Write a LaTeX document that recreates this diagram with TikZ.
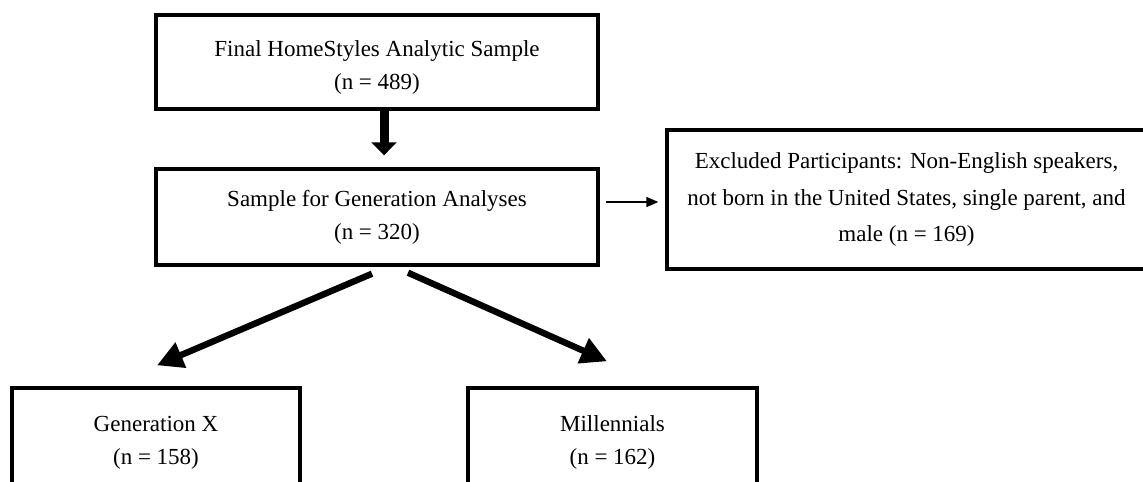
\documentclass[tikz,border=0pt]{standalone}
\usepackage{fontspec}
\setmainfont{Liberation Serif}
\usepackage{tikz}
\usetikzlibrary{arrows.meta, positioning}

\begin{document}
\begin{tikzpicture}[
        x=0.5pt, y=-0.5pt,
        box/.style={rectangle, draw=black, line width=1.7pt, align=center, inner sep=0pt, font=\fontsize{11.5}{16.5}\selectfont},
        downarrow/.style={-{Triangle[length=6.5pt, width=12.5pt]}, line width=4.5pt},
        diagarrow/.style={-{Triangle[length=13pt, width=13pt]}, line width=3.2pt},
        sidearrow/.style={-{Triangle[length=6pt, width=5pt]}, line width=0.8pt},
    ]
        \useasboundingbox (0,0) rectangle (1143,481);

        % Samples
        \node[box, minimum width=221pt, minimum height=47pt] (final) at (377,62) {\rule{0pt}{13pt}Final HomeStyles Analytic Sample\\(n = 489)};
        \node[box, minimum width=221pt, minimum height=48pt] (gensample) at (377,217) {Sample for Generation Analyses\\(n = 320)};

        % Excluded
        \node[box, minimum width=239.5pt, minimum height=69.5pt, font=\fontsize{11.5}{18.2}\selectfont] (excluded) at (906.5,199.5) {Excluded Participants: Non-English speakers,\\not born in the United States, single parent, and\\male (n = 169)};

        % Generations
        \node[box, minimum width=144pt, minimum height=54.5pt] (genx) at (156,442.5) {Generation X\\(n = 158)};
        \node[box, minimum width=144.5pt, minimum height=54.5pt] (millennials) at (612.5,442.5) {Millennials\\(n = 162)};

        % Arrows
        \draw[downarrow] ([xshift=3.5pt]final.south) -- ([xshift=3.5pt, yshift=6pt]gensample.north);
        \draw[sidearrow] ([xshift=3pt, yshift=7.5pt]gensample.east) -- ([xshift=-3.5pt, yshift=-1.25pt]excluded.west);
        \draw[diagarrow] ([xshift=-2.5pt, yshift=-3.5pt]gensample.south) -- ([xshift=0.5pt, yshift=10.5pt]genx.north);
        \draw[diagarrow] ([xshift=15.5pt, yshift=-3pt]gensample.south) -- ([xshift=-2.75pt, yshift=12.5pt]millennials.north);
    \end{tikzpicture}
\end{document}
